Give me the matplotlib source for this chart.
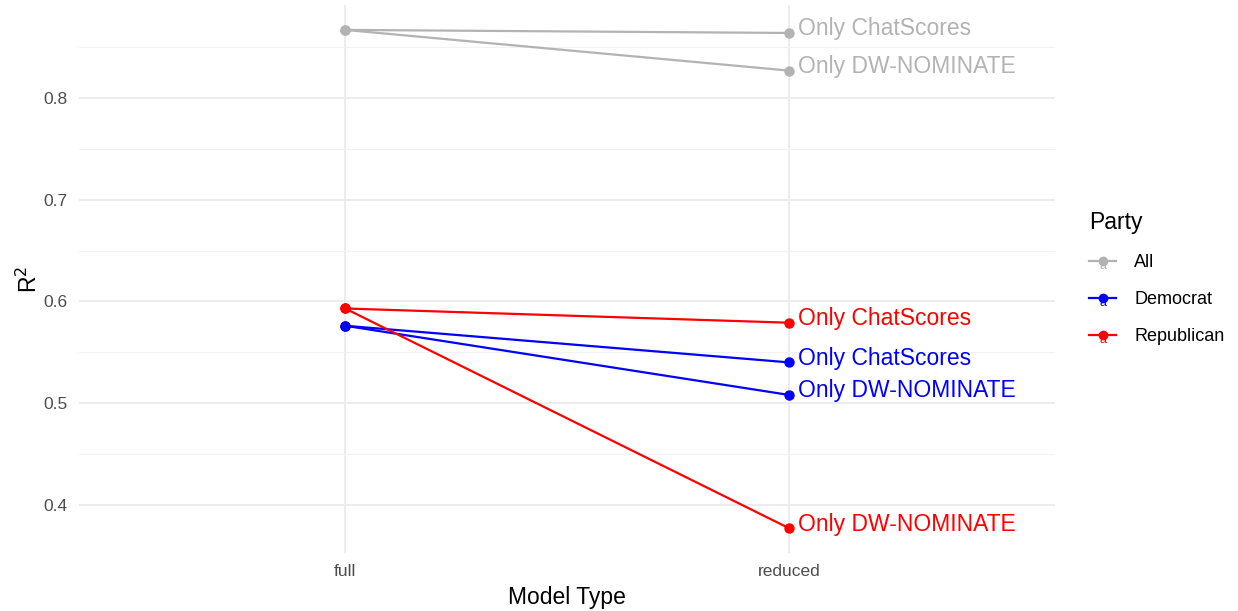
import matplotlib
matplotlib.use("Agg")
import matplotlib.pyplot as plt
from matplotlib.lines import Line2D
from matplotlib.legend_handler import HandlerBase
from matplotlib.text import Text
import matplotlib.transforms as mtransforms

plt.rcParams['font.family'] = ['Liberation Sans', 'DejaVu Sans']

models = ['full', 'reduced']
parties = ['All', 'Democrat', 'Republican']
colors = {'All': '#b3b3b3', 'Democrat': '#0000ff', 'Republican': '#ff0000'}

# R^2 values: full model, then reduced models
full_r2 = {'All': 0.867, 'Democrat': 0.576, 'Republican': 0.593}
chat_r2 = {'All': 0.864, 'Democrat': 0.540, 'Republican': 0.579}
dw_r2 = {'All': 0.827, 'Democrat': 0.508, 'Republican': 0.377}

fig = plt.figure(figsize=(12.38, 6.11), dpi=100)
ax = fig.add_axes([79/1238, 1 - 553/611, (1055-79)/1238, 548/611])

# nudge labels up a little, like ggplot's text centring
up = mtransforms.offset_copy(ax.transData, fig=fig, x=0, y=4, units='dots')

for p in parties:
    c = colors[p]
    for red, lab in [(chat_r2, 'Only ChatScores'), (dw_r2, 'Only DW-NOMINATE')]:
        ax.plot([0, 1], [full_r2[p], red[p]], color=c, lw=1.6, marker='o', ms=6.5, zorder=3)
        ax.text(1.02, red[p], lab, color=c, fontsize=16.5, ha='left', va='center',
                zorder=4, transform=up)

ax.set_xlim(-0.6, 1.6)
ax.set_ylim(0.3525, 0.8915)
ax.set_xticks([0, 1])
ax.set_xticklabels(models)
ax.set_yticks([0.4, 0.5, 0.6, 0.7, 0.8])
ax.set_yticklabels(['0.4', '0.5', '0.6', '0.7', '0.8'])
ax.set_yticks([0.45, 0.55, 0.65, 0.75, 0.85], minor=True)
ax.grid(True, which='major', color='#ebebeb', lw=1.3)
ax.grid(True, which='minor', axis='y', color='#f2f2f2', lw=0.8)
ax.set_axisbelow(True)
for s in ax.spines.values():
    s.set_visible(False)
ax.tick_params(which='both', length=0, labelsize=12.5, labelcolor='#4d4d4d', pad=8)
ax.set_xlabel('Model Type', fontsize=16.5, labelpad=5)
ax.set_ylabel('R$^2$', fontsize=16.5, labelpad=1)


class KeyHandler(HandlerBase):
    def create_artists(self, legend, orig, xd, yd, w, h, fontsize, trans):
        c = orig.get_color()
        ln = Line2D([xd, xd + w], [yd + h/2, yd + h/2], color=c, lw=1.6, transform=trans)
        mk = Line2D([xd + w/2], [yd + h/2], color=c, marker='o', ms=6, transform=trans)
        tx = Text(xd + w/2, yd + h/2 - 4, 'a', color=c, fontsize=9, ha='center', va='center',
                  transform=trans)
        return [ln, mk, tx]


handles = [Line2D([], [], color=colors[p]) for p in parties]
leg = fig.legend(handles, parties, handler_map={Line2D: KeyHandler()},
                 loc='upper left', bbox_to_anchor=(1073/1238, 1 - 195/611),
                 title='Party', frameon=False, fontsize=13, title_fontsize=16.5,
                 handlelength=1.5, labelspacing=1.1, handletextpad=1.0)
leg._legend_box.align = 'left'

fig.savefig('out.png', dpi=100, facecolor='white')
